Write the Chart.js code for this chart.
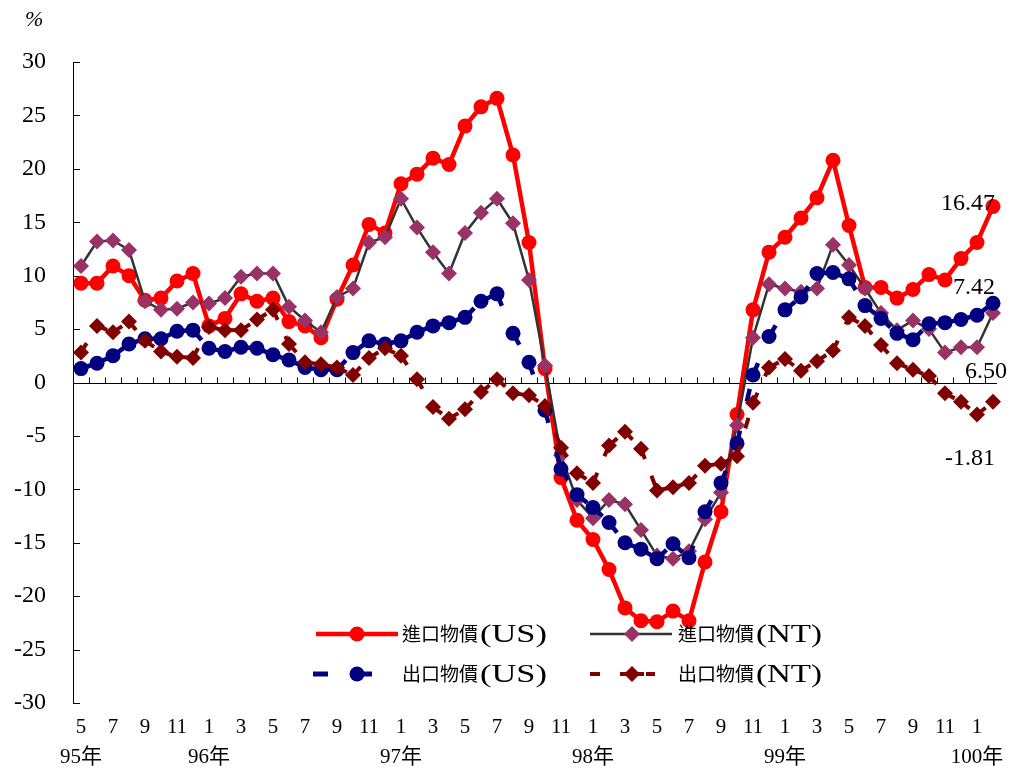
<!DOCTYPE html>
<html>
<head>
<meta charset="utf-8">
<script src="https://cdn.jsdelivr.net/npm/chart.js@4/dist/chart.umd.min.js"></script>
<style>
html,body{margin:0;padding:0;background:#fff;}
#wrap{width:1010px;height:771px;}
</style>
</head>
<body>
<div id="wrap"><canvas id="c" width="1010" height="771"></canvas></div>
<script>
// ---- categories (ROC year / month) ----
const categories = [
 '95/5','95/6','95/7','95/8','95/9','95/10','95/11','95/12',
 '96/1','96/2','96/3','96/4','96/5','96/6','96/7','96/8','96/9','96/10','96/11','96/12',
 '97/1','97/2','97/3','97/4','97/5','97/6','97/7','97/8','97/9','97/10','97/11','97/12',
 '98/1','98/2','98/3','98/4','98/5','98/6','98/7','98/8','98/9','98/10','98/11','98/12',
 '99/1','99/2','99/3','99/4','99/5','99/6','99/7','99/8','99/9','99/10','99/11','99/12',
 '100/1','100/2'
];
// tick labels: month shown every two months, year under January / first month
const monthTicks = [
 '5','','7','','9','','11','',
 '1','','3','','5','','7','','9','','11','',
 '1','','3','','5','','7','','9','','11','',
 '1','','3','','5','','7','','9','','11','',
 '1','','3','','5','','7','','9','','11','',
 '1',''
];
const yearTicks = {0:'95年', 8:'96年', 20:'97年', 32:'98年', 44:'99年', 56:'100年'};
const yTicksMin = -30, yTicksMax = 30, yTickStep = 5;

// ---- series (%) ----
const importUS = [9.3, 9.3, 10.9, 10.0, 7.7, 7.9, 9.5, 10.2, 5.3, 6.0, 8.3, 7.6, 7.9, 5.7, 5.3, 4.2, 7.8, 11.0,
 14.8, 14.0, 18.6, 19.5, 21.0, 20.4, 24.0, 25.8, 26.6, 21.3, 13.1, 1.3, -8.9, -12.9, -14.7, -17.5, -21.1, -22.3,
 -22.4, -21.4, -22.3, -16.8, -12.1, -3.0, 6.8, 12.2, 13.6, 15.4, 17.3, 20.8, 14.7, 8.9, 8.9, 7.9, 8.7, 10.1, 9.6,
 11.6, 13.1, 16.47];
const importNT = [10.9, 13.2, 13.3, 12.4, 7.6, 6.8, 6.9, 7.5, 7.4, 7.9, 9.9, 10.2, 10.2, 7.1, 5.8, 4.7, 8.0, 8.8,
 13.1, 13.6, 17.2, 14.5, 12.2, 10.2, 14.0, 15.9, 17.2, 14.9, 9.6, 1.6, -6.8, -11.0, -12.7, -11.0, -11.4, -13.8,
 -16.2, -16.5, -15.8, -12.8, -10.3, -4.0, 4.2, 9.2, 8.8, 8.5, 8.8, 12.9, 11.0, 8.8, 6.5, 4.9, 5.8, 5.0, 2.8,
 3.3, 3.3, 6.50];
const exportUS = [1.3, 1.8, 2.5, 3.6, 4.1, 4.1, 4.8, 4.9, 3.2, 2.9, 3.3, 3.2, 2.6, 2.1, 1.4, 1.2, 1.2, 2.8,
 3.9, 3.6, 3.9, 4.7, 5.3, 5.6, 6.1, 7.6, 8.3, 4.6, 1.9, -2.6, -8.1, -10.5, -11.7, -13.1, -15.0, -15.6,
 -16.5, -15.1, -16.4, -12.1, -9.4, -5.7, 0.7, 4.3, 6.8, 8.0, 10.2, 10.3, 9.7, 7.2, 6.0, 4.6, 4.0, 5.5, 5.6,
 5.9, 6.3, 7.42];
const exportNT = [2.8, 5.3, 4.7, 5.7, 3.9, 2.9, 2.4, 2.3, 5.2, 4.9, 4.9, 5.9, 6.8, 3.6, 1.9, 1.7, 1.4, 0.7,
 2.3, 3.2, 2.5, 0.3, -2.3, -3.4, -2.5, -0.9, 0.3, -1.0, -1.2, -2.2, -6.1, -8.5, -9.4, -5.9, -4.6, -6.2,
 -10.1, -9.8, -9.4, -7.8, -7.6, -6.9, -1.9, 1.4, 2.2, 1.1, 2.0, 3.0, 6.1, 5.3, 3.5, 1.8, 1.2, 0.6, -1.0,
 -1.8, -3.0, -1.81];

const seriesNames = ['進口物價(US)', '進口物價(NT)', '出口物價(US)', '出口物價(NT)'];

const SERIF = '"Liberation Serif", "Times New Roman", serif';
const CJK = '"Noto Sans CJK TC", "Noto Sans CJK SC", sans-serif';

// restart dash pattern at every segment (style toggles per segment)
const perSegmentDash = { borderDashOffset: c => (c.p0DataIndex % 2) * 0.001 };

const decor = {
  id: 'decor',
  beforeDatasetsDraw(chart) {
    const {ctx, chartArea: a, scales: {x, y}} = chart;
    ctx.save();
    ctx.strokeStyle = '#000';
    ctx.lineWidth = 1;
    ctx.beginPath();
    const y0 = Math.round(y.getPixelForValue(0)) + 0.5;
    ctx.moveTo(a.left, y0); ctx.lineTo(a.right - 4, y0);
    for (let i = 1; i < categories.length; i++) {
      const px = Math.round((x.getPixelForValue(i - 1) + x.getPixelForValue(i)) / 2) + 0.5;
      ctx.moveTo(px, y0); ctx.lineTo(px, y0 - 6);
    }
    y.ticks.forEach(t => {
      const py = Math.round(y.getPixelForValue(t.value)) + 0.5;
      ctx.moveTo(a.left, py); ctx.lineTo(a.left + 7, py);
    });
    ctx.stroke();
    ctx.restore();
  },
  afterDatasetsDraw(chart) {
    const {ctx, scales: {x, y}} = chart;
    ctx.save();
    // % unit
    ctx.fillStyle = '#000';
    ctx.font = 'italic 22px ' + SERIF;
    ctx.textAlign = 'left'; ctx.textBaseline = 'middle';
    ctx.fillText('%', 25, 20);

    // end value labels
    const last = categories.length - 1;
    const xl = x.getPixelForValue(last);
    const endSeries = [importUS, exportUS, importNT, exportNT];
    const endOffsets = [[2, -3], [2, -16], [14, 59], [2, 57]];
    ctx.font = '24px ' + SERIF;
    ctx.textAlign = 'right';
    endSeries.forEach((s, k) => {
      const v = s[last];
      ctx.fillText(v.toFixed(2), xl + endOffsets[k][0], y.getPixelForValue(v) + endOffsets[k][1]);
    });

    // legend
    function label(text, lx, ly) {
      const cjk = text.slice(0, 4), lat = text.slice(4);
      ctx.textAlign = 'left'; ctx.textBaseline = 'middle';
      ctx.font = '19px ' + CJK;
      ctx.fillText(cjk, lx, ly);
      const w = ctx.measureText(cjk).width;
      ctx.font = '25px ' + SERIF;
      const lw = ctx.measureText(lat).width;
      const target = lat === '(US)' ? 67 : 66;
      ctx.save();
      ctx.translate(lx + w + 2, ly + 1);
      ctx.scale(target / lw, 1);
      ctx.fillText(lat, 0, 0);
      ctx.restore();
    }
    function circle(cx, cy, r, col) { ctx.fillStyle = col; ctx.beginPath(); ctx.arc(cx, cy, r, 0, Math.PI * 2); ctx.fill(); }
    function diamond(cx, cy, r, col) { ctx.fillStyle = col; ctx.beginPath(); ctx.moveTo(cx - r, cy); ctx.lineTo(cx, cy - r); ctx.lineTo(cx + r, cy); ctx.lineTo(cx, cy + r); ctx.closePath(); ctx.fill(); }
    function seg(x1, x2, yy, w, col) { ctx.strokeStyle = col; ctx.lineWidth = w; ctx.beginPath(); ctx.moveTo(x1, yy); ctx.lineTo(x2, yy); ctx.stroke(); }

    const r1 = 634, r2 = 674;
    seg(316, 398, r1, 4.5, '#FF0000'); circle(357, r1, 7.5, '#FF0000');
    ctx.fillStyle = '#000'; label(seriesNames[0], 402, r1);
    seg(590, 672, r1, 2.5, '#333333'); diamond(632, r1, 8, '#993366');
    ctx.fillStyle = '#000'; label(seriesNames[1], 678, r1);
    seg(313, 328, r2, 5, '#000080'); seg(357, 372, r2, 5, '#000080'); circle(357, r2, 7.5, '#000080');
    ctx.fillStyle = '#000'; label(seriesNames[2], 402, r2);
    seg(590, 600, r2, 4, '#800000'); seg(620, 644, r2, 4, '#800000'); seg(646, 655, r2, 4, '#800000');
    diamond(632, r2, 8, '#800000');
    ctx.fillStyle = '#000'; label(seriesNames[3], 678, r2);
    ctx.restore();
  }
};

new Chart(document.getElementById('c'), {
  type: 'line',
  data: {
    labels: categories,
    datasets: [
      { label: seriesNames[0], data: importUS, order: 4,
        borderColor: '#FF0000', backgroundColor: '#FF0000', borderWidth: 4.5,
        pointStyle: 'circle', pointRadius: 7.5, pointBorderWidth: 0, pointBackgroundColor: '#FF0000' },
      { label: seriesNames[1], data: importNT, order: 3,
        borderColor: '#333333', backgroundColor: '#993366', borderWidth: 2.5,
        pointStyle: 'rectRot', pointRadius: 8, pointBorderWidth: 0, pointBackgroundColor: '#993366' },
      { label: seriesNames[2], data: exportUS, order: 2,
        borderColor: '#000080', backgroundColor: '#000080', borderWidth: 4.5, borderDash: [13, 30],
        segment: perSegmentDash,
        pointStyle: 'circle', pointRadius: 7.5, pointBorderWidth: 0, pointBackgroundColor: '#000080' },
      { label: seriesNames[3], data: exportNT, order: 1,
        borderColor: '#800000', backgroundColor: '#800000', borderWidth: 4, borderDash: [11, 18],
        segment: perSegmentDash,
        pointStyle: 'rectRot', pointRadius: 8, pointBorderWidth: 0, pointBackgroundColor: '#800000' }
    ]
  },
  options: {
    responsive: false,
    animation: false,
    devicePixelRatio: 1,
    layout: { padding: { top: 62, right: 9, bottom: 0, left: 0 } },
    plugins: { legend: { display: false }, tooltip: { enabled: false } },
    elements: { line: { tension: 0 } },
    scales: {
      x: {
        type: 'category',
        offset: true,
        grid: { display: false, drawTicks: false },
        border: { display: false },
        afterFit: s => { s.height = 68; },
        ticks: {
          autoSkip: false, maxRotation: 0, minRotation: 0, padding: 9,
          color: '#000',
          font: { family: '"Liberation Serif", ' + CJK, size: 21, lineHeight: 1.43 },
          callback: (v, i) => monthTicks[i] ? [monthTicks[i], yearTicks[i] || ''] : ''
        }
      },
      y: {
        min: yTicksMin, max: yTicksMax,
        grid: { display: false, drawTicks: false },
        border: { display: true, color: '#000', width: 1 },
        afterFit: s => { s.width = 73; },
        ticks: {
          stepSize: yTickStep, padding: 27, color: '#000',
          font: { family: SERIF, size: 24 }
        }
      }
    }
  },
  plugins: [decor]
});
</script>
</body>
</html>
